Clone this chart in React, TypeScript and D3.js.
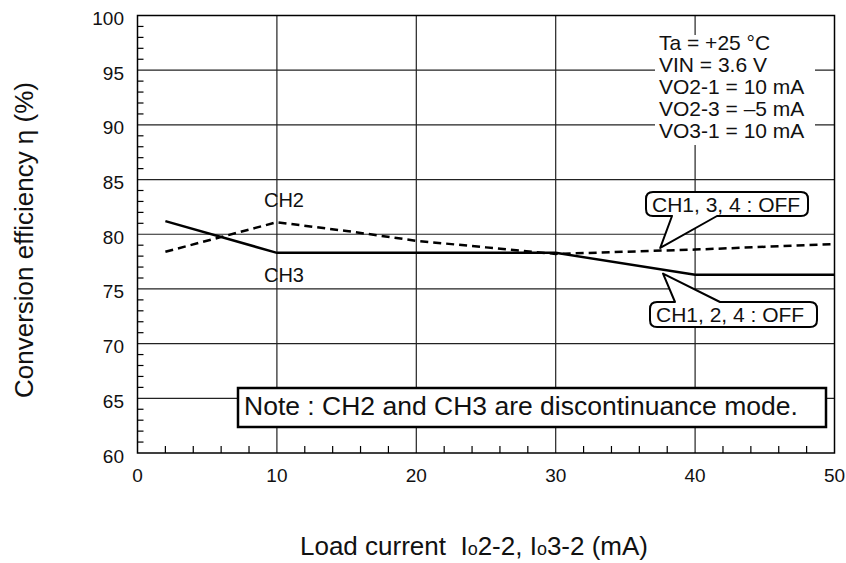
import React from "react";
import * as d3 from "d3";

// values
const xTicks = [0, 10, 20, 30, 40, 50];
const yTicks = [60, 65, 70, 75, 80, 85, 90, 95, 100];
const ch3X = [2, 10, 30, 40, 50];
const ch3Y = [81.2, 78.3, 78.3, 76.3, 76.3];
const ch2X = [2, 10, 15, 20, 25, 30, 40, 50];
const ch2Y = [78.4, 81.1, 80.3, 79.4, 78.8, 78.2, 78.6, 79.1];
const conditions = [
  "Ta = +25 \u00b0C",
  "VIN = 3.6 V",
  "VO2-1 = 10 mA",
  "VO2-3 = \u20135 mA",
  "VO3-1 = 10 mA"
];

const W = 846;
const H = 563;
const left = 137.5;
const right = 834.5;
const top = 15.5;
const bottom = 453;
const font = "'Liberation Sans', Arial, Helvetica, sans-serif";

const x = d3.scaleLinear().domain([0, 50]).range([left, right]);
const y = d3.scaleLinear().domain([60, 100]).range([bottom, top]);

const line = d3
  .line<[number, number]>()
  .x(d => x(d[0]))
  .y(d => y(d[1]));

// rounded box with a pointer, on the bottom or top edge
function callout(L: number, R: number, T: number, B: number, p1: number, p2: number, tip: [number, number], onTop: boolean) {
  const r = 7;
  if (!onTop) {
    return `M${L + r},${T} H${R - r} Q${R},${T} ${R},${T + r} V${B - r} Q${R},${B} ${R - r},${B} H${p2} L${tip[0]},${tip[1]} L${p1},${B} H${L + r} Q${L},${B} ${L},${B - r} V${T + r} Q${L},${T} ${L + r},${T} Z`;
  }
  return `M${L + r},${T} H${p1} L${tip[0]},${tip[1]} L${p2},${T} H${R - r} Q${R},${T} ${R},${T + r} V${B - r} Q${R},${B} ${R - r},${B} H${L + r} Q${L},${B} ${L},${B - r} V${T + r} Q${L},${T} ${L + r},${T} Z`;
}

export default function App() {
  const xMinor = d3.range(0, 51, 2).filter(v => v % 10 !== 0);
  const yMinor = d3.range(60, 101, 1).filter(v => v % 5 !== 0);
  const ch2 = ch2X.map((v, i) => [v, ch2Y[i]] as [number, number]);
  const ch3 = ch3X.map((v, i) => [v, ch3Y[i]] as [number, number]);

  return (
    <svg
      width={W}
      height={H}
      style={{ position: "absolute", left: 0, top: 0, background: "#fff" }}
      fontFamily={font}
    >
      {/* grid */}
      {xTicks.slice(1, -1).map(t => (
        <line key={"gx" + t} x1={x(t)} x2={x(t)} y1={top} y2={bottom} stroke="#222" strokeWidth={1.2} />
      ))}
      {yTicks.slice(1, -1).map(t => (
        <line key={"gy" + t} x1={left} x2={right} y1={y(t)} y2={y(t)} stroke="#222" strokeWidth={1.2} />
      ))}
      {/* minor ticks */}
      {xMinor.map(t => (
        <line key={"mx" + t} x1={x(t)} x2={x(t)} y1={bottom} y2={bottom - 7} stroke="#000" strokeWidth={1.2} />
      ))}
      {yMinor.map(t => (
        <line key={"my" + t} x1={left} x2={left + 6} y1={y(t)} y2={y(t)} stroke="#000" strokeWidth={1.2} />
      ))}
      <rect x={left} y={top} width={right - left} height={bottom - top} fill="none" stroke="#000" strokeWidth={1.5} />

      {/* tick labels */}
      {yTicks.map(t => (
        <text key={"ly" + t} x={124} y={y(t) + 9.5} textAnchor="end" fontSize={19} fill="#111">
          {t}
        </text>
      ))}
      {xTicks.map(t => (
        <text key={"lx" + t} x={x(t)} y={482} textAnchor="middle" fontSize={19} fill="#111">
          {t}
        </text>
      ))}

      {/* conditions */}
      <rect x={655} y={35} width={160} height={110} fill="#fff" />
      {conditions.map((c, i) => (
        <text key={c} x={659} y={50 + i * 22} fontSize={21} fill="#111">
          {c}
        </text>
      ))}

      {/* curves */}
      <path d={line(ch2) || ""} fill="none" stroke="#000" strokeWidth={2.5} strokeDasharray="8,5" />
      <path d={line(ch3) || ""} fill="none" stroke="#000" strokeWidth={2.5} />

      <text x={284} y={207} textAnchor="middle" fontSize={20} fill="#111">CH2</text>
      <text x={284} y={282} textAnchor="middle" fontSize={20} fill="#111">CH3</text>

      {/* callouts */}
      <path
        d={callout(646, 808, 192, 216, 672, 717, [x(37.5), y(78.75)], false)}
        fill="#fff"
        stroke="#000"
        strokeWidth={2}
        strokeLinejoin="round"
      />
      <text x={652} y={212} fontSize={21} fill="#111">CH1, 3, 4 : OFF</text>
      <path
        d={callout(650, 817, 302, 327, 675, 720, [x(37.7), y(76.4)], true)}
        fill="#fff"
        stroke="#000"
        strokeWidth={2}
        strokeLinejoin="round"
      />
      <text x={656} y={322} fontSize={21} fill="#111">CH1, 2, 4 : OFF</text>

      {/* note */}
      <rect x={238} y={388} width={588} height={39} fill="#fff" stroke="#000" strokeWidth={2.5} />
      <text x={244} y={415} fontSize={26.5} fill="#111">
        Note : CH2 and CH3 are discontinuance mode.
      </text>

      {/* axis titles */}
      <text transform="translate(33,240) rotate(-90)" textAnchor="middle" fontSize={26} fill="#111">
        Conversion efficiency  η  (%)
      </text>
      <text x={474} y={555} textAnchor="middle" fontSize={26} fill="#111" style={{ whiteSpace: "pre" }}>
        {"Load current  I"}
        <tspan fontSize={18}>o</tspan>
        {"2-2, I"}
        <tspan fontSize={18}>o</tspan>
        {"3-2 (mA)"}
      </text>
    </svg>
  );
}
